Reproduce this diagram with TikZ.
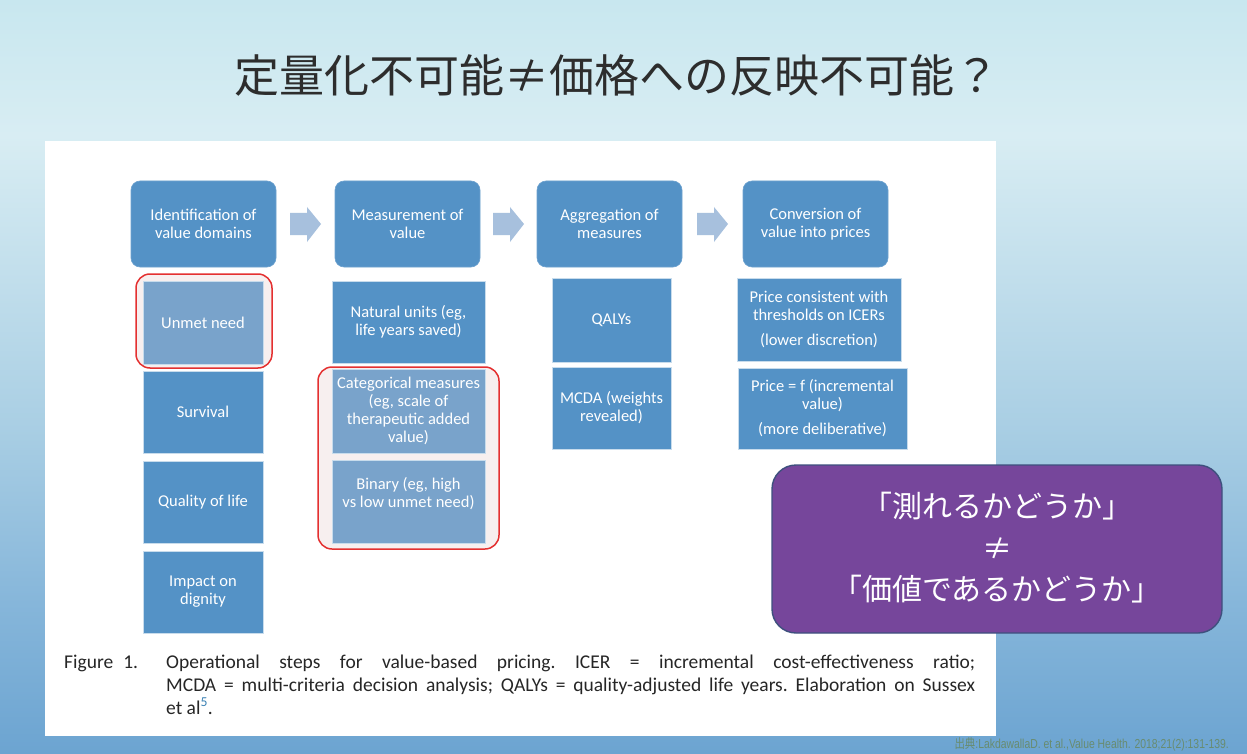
\documentclass[tikz,border=0pt]{standalone}
\usepackage{fontspec}
\setmainfont{Carlito}
\newfontfamily\cjk{Noto Sans CJK JP}
\newfontfamily\citefont[FakeStretch=0.8]{Liberation Sans}
\newfontfamily\citecjk[FakeStretch=0.8]{Noto Sans CJK JP}
\definecolor{boxblue}{RGB}{84,146,198}
\definecolor{hiblue}{RGB}{121,163,203}
\definecolor{boxedge}{RGB}{200,220,236}
\definecolor{arrowblue}{RGB}{167,192,221}
\definecolor{redline}{RGB}{228,48,48}
\definecolor{pinkbg}{RGB}{247,239,239}
\definecolor{purplefill}{RGB}{118,70,155}
\definecolor{purpleedge}{RGB}{62,80,126}
\definecolor{bgbot}{RGB}{108,164,209}
\definecolor{bglow}{RGB}{134,182,218}
\definecolor{bgmid}{RGB}{170,207,228}
\definecolor{bglight}{RGB}{216,237,243}
\definecolor{bgtop}{RGB}{200,231,239}
\definecolor{titlegray}{RGB}{45,45,45}
\definecolor{citegreen}{RGB}{104,140,112}
\definecolor{supblue}{RGB}{60,130,180}
\pgfdeclareverticalshading{slidebg}{100bp}{color(0bp)=(bgbot); color(25bp)=(bgbot); color(35bp)=(bglow); color(47bp)=(bgmid); color(66bp)=(bglight); color(75bp)=(bgtop); color(100bp)=(bgtop)}
\newcommand\boxfont{\fontsize{16.5}{18}\selectfont}
\newcommand\blockarrowat[1]{%
  \fill[arrowblue] ($(#1)+(-15.5,-11)$) -- ++(17,0) -- ++(0,-6) -- ++(14,17) -- ++(-14,18) -- ++(0,-7) -- ++(-17,0) -- cycle;}
\usetikzlibrary{calc}
\tikzset{
  topbox/.style={rectangle, rounded corners=9pt, fill=boxblue, draw=boxblue!85!white, line width=0.6pt, text=white, font=\boxfont, align=center, inner sep=0pt, minimum width=145pt, minimum height=86pt},
  subbox/.style={rectangle, fill=boxblue, draw=boxedge, line width=0.7pt, text=white, font=\boxfont, align=center, inner sep=0pt},
  hibox/.style={subbox, fill=hiblue},
  redframe/.style={draw=redline, line width=1.5pt, fill=pinkbg, rounded corners=14pt},
}
\begin{document}
\begin{tikzpicture}[x=1pt, y=-1pt]
\useasboundingbox (0,0) rectangle (1247,754);
% background
\fill[shading=slidebg] (0,0) rectangle (1247,754);
% title
\node[font={\cjk\fontsize{45}{50}\selectfont}, text=titlegray] (title) at (617,75) {定量化不可能≠価格への反映不可能？};
% figure panel
\fill[white] (45,141) rectangle (996,736);
% red frames
\draw[redframe] (136,274) rectangle (272,368);
\draw[redframe] (318,367) rectangle (499,549);
% top boxes
\node[topbox] (b1) at (203.5,224) {Identification of\\value domains};
\node[topbox] (b2) at (407.5,224) {Measurement of\\value};
\node[topbox] (b3) at (609.5,224) {Aggregation of\\measures};
\node[topbox] (b4) at (815.5,224) {Conversion of\\value into prices};
% block arrows (between the top boxes)
\coordinate (a1) at ($(b1.east)!0.5!(b2.west)$);
\coordinate (a2) at ($(b2.east)!0.5!(b3.west)$);
\coordinate (a3) at ($(b3.east)!0.5!(b4.west)$);
\blockarrowat{a1}
\blockarrowat{a2}
\blockarrowat{a3}
% column 1
\node[hibox, minimum width=120pt, minimum height=83pt] (c1a) at (203,322.5) {Unmet need};
\node[subbox, minimum width=120pt, minimum height=82pt] (c1b) at (203,412) {Survival};
\node[subbox, minimum width=120pt, minimum height=82pt] (c1c) at (203,502) {Quality of life};
\node[subbox, minimum width=120pt, minimum height=82pt] (c1d) at (203,592) {Impact on\\dignity};
% column 2
\node[subbox, minimum width=153pt, minimum height=82pt] (c2a) at (408.5,322) {Natural units (eg,\\life years saved)};
\node[hibox, minimum width=153pt, minimum height=84pt] (c2b) at (408.5,411) {Categorical measures\\(eg, scale of\\therapeutic added\\value)};
\node[hibox, minimum width=153pt, minimum height=83pt] (c2c) at (408.5,501.5) {Binary (eg, high\\vs low unmet need)\\\mbox{}};
% column 3
\node[subbox, minimum width=119pt, minimum height=84pt] (c3a) at (611.5,320) {QALYs};
\node[subbox, minimum width=119pt, minimum height=82pt] (c3b) at (611.5,408) {MCDA (weights\\revealed)};
% column 4
\node[subbox, minimum width=164pt, minimum height=83pt] (c4a) at (819,319.5) {Price consistent with\\thresholds on ICERs\\[7pt](lower discretion)};
\node[subbox, minimum width=169pt, minimum height=81pt] (c4b) at (822.5,408.5) {Price = f (incremental\\value)\\[7pt](more deliberative)};
% caption
\node[anchor=base west, inner sep=0pt, font=\fontsize{19.5}{23}\selectfont, text=black!85] (figlab) at (64,668) {Figure\hspace{10pt}1.};
\node[anchor=base west, inner sep=0pt, font=\fontsize{19.5}{23}\selectfont, text=black!85, text width=809pt, align=justify] (cap) at (166,668) {\frenchspacing\hyphenpenalty=10000 Operational steps for value-based pricing. ICER = incremental cost-effectiveness ratio;\linebreak MCDA = multi-criteria decision analysis; QALYs = quality-adjusted life years. Elaboration on Sussex\linebreak et al\textsuperscript{\color{supblue}5}.};
% purple callout
\node[rectangle, rounded corners=24pt, fill=purplefill, draw=purpleedge, line width=1.4pt, minimum width=450pt, minimum height=168pt] (callout) at (997,549) {};
\node[font={\cjk\fontsize{30}{41.5}\selectfont}, text=white, align=center] (callt) at (997,548) {「測れるかどうか」\\≠\\「価値であるかどうか」};
% citation
\node[anchor=base east, inner sep=0pt, text=citegreen, font=\fontsize{13}{15}\selectfont] (cite) at (1229,748) {{\citecjk 出典}\citefont :LakdawallaD. et al.,Value Health. 2018;21(2):131-139.};
\end{tikzpicture}
\end{document}
